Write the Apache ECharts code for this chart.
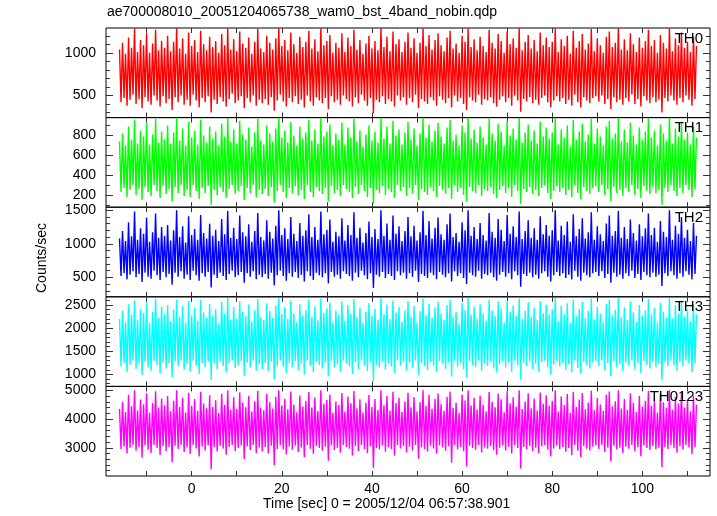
<!DOCTYPE html>
<html><head><meta charset="utf-8">
<script src="https://cdn.jsdelivr.net/npm/echarts@6/dist/echarts.min.js"></script>
<style>html,body{margin:0;padding:0;background:#fff}#c{width:717px;height:516px}</style>
</head><body><div id="c"></div>
<script>
const TITLE = "ae700008010_20051204065738_wam0_bst_4band_nobin.qdp";
const X_TITLE = "Time [sec] 0 = 2005/12/04 06:57:38.901";
const Y_TITLE = "Counts/sec";
const BANDS = ["TH0", "TH1", "TH2", "TH3", "TH0123"];
const COLORS = ["#ff0000", "#00ff00", "#0000ff", "#00ffff", "#ff00ff"];
const T_START = -16, T_STEP = 1 / 3;
const X_RANGE = [-19, 115];
const X_LABELS = [0, 20, 40, 60, 80, 100];
const X_TICKS = [-10, 0, 10, 20, 30, 40, 50, 60, 70, 80, 90, 100, 110];
const Y_RANGES = [[240, 1292], [76, 981], [210, 1545], [741, 2679], [2017, 5139]];
const Y_LABELS = [[500, 1000], [200, 400, 600, 800], [500, 1000, 1500], [1000, 1500, 2000, 2500], [3000, 4000, 5000]];
const Y_MINOR_STEP = [100, 100, 100, 100, 200];

const th0 = [1040,420,1120,470,990,380,1180,450,1060,510,1290,400,1010,460,1150,350,
1090,480,1230,430,1000,390,1110,500,1270,440,1030,370,1140,490,1060,410,
1200,460,1020,330,1130,480,1290,420,1050,500,1170,390,990,450,1240,380,
1080,510,1150,440,1010,360,1260,470,1100,420,1030,490,1190,300,1070,450,
1140,400,1000,480,1220,430,1090,370,1290,460,1040,520,1160,410,1020,440,
1250,490,1110,350,1060,470,1180,420,990,500,1130,380,1280,450,1050,410,
1010,460,1200,390,1120,480,1040,320,1170,440,1290,510,1080,430,1150,370,
1030,470,1240,420,1100,490,1000,400,1190,450,1070,360,1130,500,1260,430,
1050,380,1160,480,1020,440,1290,410,1090,470,1140,340,1210,490,1000,420,
1120,450,1060,390,1230,500,1010,460,1180,430,1080,370,1270,480,1040,410,
1150,510,990,440,1110,380,1200,470,1050,290,1140,450,1030,420,1290,490,
1070,400,1190,460,1020,430,1250,370,1100,500,1160,440,1010,480,1130,390,
1240,470,1060,420,1170,510,1000,350,1120,460,1290,430,1080,400,1210,480,
1040,440,1150,380,1230,490,1090,450,1020,410,1180,470,1260,360,1050,500,
1110,430,1000,470,1200,400,1130,330,1290,480,1070,440,1160,420,1030,510,
1190,390,1080,460,1010,440,1270,480,1120,410,1050,370,1220,450,1140,490,
1000,420,1250,470,1100,380,1170,500,1060,440,1290,310,1030,460,1130,430,
1210,480,1050,410,1150,450,1020,390,1240,470,1090,500,1180,420,1070,360,
1130,440,1290,490,1010,430,1160,470,1080,400,1200,450,990,380,1260,510,
1060,420,1140,360,1220,480,1040,440,1110,410,1280,470,1020,490,1170,430,
1090,500,1000,400,1190,460,1250,340,1070,480,1120,420,1290,450,1040,390,
1160,470,1030,430,1230,510,1100,400,1010,460,1180,370,1060,490,1140,440,
1270,410,1080,480,1150,420,1000,450,1210,300,1120,470,1050,430,1290,500,
1020,440,1170,390,1090,470,1240,420,1060,500,1130,450,1010,380,1190,460,
1080];
const th1 = [740,230,820,270,700,180,890,250,760,300,960,200,720,260,850,150,
790,280,930,230,710,190,810,300,970,240,730,170,840,290,760,210,
900,260,720,130,830,280,980,220,750,300,870,190,700,250,940,180,
780,300,850,240,710,160,960,270,800,220,730,290,890,100,770,250,
840,200,700,280,920,230,790,170,980,260,740,300,860,210,720,240,
950,290,810,150,760,270,880,220,690,300,830,180,970,250,750,210,
710,260,900,190,820,280,740,120,870,240,980,300,780,230,850,170,
730,270,940,220,800,290,700,200,890,250,770,160,830,300,960,230,
750,180,860,280,720,240,980,210,790,270,840,140,910,290,700,220,
820,250,760,190,930,300,710,260,880,230,780,170,970,280,740,210,
850,300,690,240,810,180,900,270,750,110,840,250,730,220,980,290,
770,200,890,260,720,230,950,170,800,300,860,240,710,280,830,190,
940,270,760,220,870,300,700,150,820,260,980,230,780,200,910,280,
740,240,850,180,930,290,790,250,720,210,880,270,960,160,750,300,
810,230,700,270,900,200,830,130,980,280,770,240,860,220,730,300,
890,190,780,260,710,240,970,280,820,210,750,170,920,250,840,290,
700,220,950,270,800,180,870,300,760,240,980,110,730,260,830,230,
910,280,750,210,850,250,720,190,940,270,790,300,880,220,770,160,
830,240,980,290,710,230,860,270,780,200,900,250,690,180,960,300,
760,220,840,160,920,280,740,240,810,210,970,270,720,290,870,230,
790,300,700,200,890,260,950,140,770,280,820,220,980,250,740,190,
860,270,730,230,930,300,800,200,710,260,880,170,760,290,840,240,
970,210,780,280,850,220,700,250,910,100,820,270,750,230,980,300,
720,240,870,190,790,270,940,220,760,300,830,250,710,180,890,260,
780];
const th2 = [1080,520,1190,560,1040,470,1320,540,1110,590,1480,500,1060,550,1230,430,
1150,570,1390,510,1030,480,1170,600,1450,530,1090,460,1250,580,1120,500,
1280,550,1050,390,1200,570,1500,510,1100,590,1260,480,1020,540,1410,460,
1130,600,1220,530,1060,450,1430,560,1160,510,1080,580,1300,350,1120,540,
1210,490,1040,570,1370,520,1140,460,1490,550,1090,600,1240,500,1070,530,
1420,580,1170,420,1110,560,1290,510,1030,590,1190,470,1460,540,1100,500,
1050,550,1350,480,1180,570,1080,380,1270,530,1500,600,1130,520,1230,450,
1070,560,1400,510,1150,580,1040,490,1310,540,1120,440,1200,590,1440,520,
1100,460,1250,570,1060,530,1480,500,1140,560,1210,410,1360,580,1030,510,
1180,540,1110,480,1380,590,1050,550,1280,520,1130,450,1470,570,1090,500,
1240,600,1020,530,1160,470,1330,560,1100,340,1220,540,1070,510,1500,580,
1120,490,1300,550,1060,520,1420,460,1150,590,1260,530,1040,570,1190,480,
1400,560,1110,510,1270,600,1050,430,1170,550,1490,520,1130,490,1340,570,
1080,530,1240,470,1390,580,1140,540,1060,500,1290,560,1450,440,1100,590,
1160,520,1030,560,1320,490,1200,400,1500,570,1120,530,1250,510,1070,600,
1310,480,1130,550,1050,530,1460,570,1180,500,1090,450,1370,540,1210,580,
1040,510,1430,560,1150,470,1260,590,1100,530,1480,360,1070,550,1190,520,
1350,570,1090,500,1230,540,1060,480,1410,560,1140,590,1280,510,1120,440,
1200,530,1500,580,1050,520,1270,560,1130,490,1330,540,1030,470,1440,600,
1110,510,1220,450,1380,570,1080,530,1170,500,1470,560,1060,580,1260,520,
1140,590,1040,490,1300,550,1420,420,1120,570,1190,510,1490,540,1090,480,
1250,560,1070,520,1360,600,1160,490,1050,550,1290,460,1110,580,1230,530,
1450,500,1130,570,1240,510,1030,540,1340,370,1180,560,1100,520,1500,590,
1060,530,1270,480,1150,560,1400,510,1090,590,1210,540,1040,470,1310,550,
1120];
const th3 = [2200,1180,2380,1250,2130,1050,2520,1210,2290,1300,2600,1120,2170,1230,2420,990,
2330,1270,2560,1150,2110,1080,2350,1290,2640,1200,2220,1020,2470,1260,2300,1130,
2500,1240,2150,940,2400,1280,2620,1170,2250,1300,2480,1100,2120,1220,2590,1060,
2280,1300,2440,1190,2160,1010,2610,1250,2340,1160,2230,1270,2530,880,2270,1230,
2410,1110,2100,1280,2570,1180,2310,1040,2650,1240,2190,1300,2460,1140,2210,1200,
2580,1290,2360,970,2260,1260,2510,1150,2140,1300,2390,1080,2630,1220,2240,1120,
2180,1250,2540,1070,2370,1280,2230,900,2490,1190,2650,1300,2300,1170,2450,1030,
2200,1260,2600,1160,2320,1290,2130,1090,2520,1230,2280,1000,2400,1300,2620,1180,
2250,1050,2470,1270,2170,1200,2640,1130,2330,1250,2430,960,2550,1290,2120,1150,
2380,1220,2290,1060,2580,1300,2150,1240,2500,1180,2310,1010,2630,1270,2240,1110,
2440,1300,2110,1190,2350,1070,2540,1260,2270,860,2420,1210,2190,1150,2650,1280,
2300,1100,2510,1240,2200,1170,2600,1030,2340,1300,2460,1200,2140,1270,2390,1080,
2590,1260,2260,1140,2480,1300,2130,980,2370,1240,2640,1180,2280,1090,2530,1270,
2230,1190,2450,1060,2570,1290,2320,1230,2180,1120,2500,1260,2610,950,2250,1300,
2360,1170,2100,1250,2550,1110,2400,930,2650,1280,2290,1200,2470,1160,2210,1300,
2520,1080,2310,1240,2160,1190,2620,1270,2390,1130,2260,1040,2580,1220,2430,1290,
2120,1150,2600,1260,2350,1060,2490,1300,2270,1200,2640,890,2200,1250,2380,1180,
2560,1280,2240,1120,2440,1230,2170,1070,2590,1270,2330,1300,2510,1160,2290,1000,
2410,1210,2650,1290,2150,1170,2480,1250,2300,1100,2540,1220,2110,1040,2620,1300,
2260,1140,2420,1010,2570,1270,2220,1200,2370,1130,2640,1260,2190,1290,2460,1180,
2310,1300,2130,1090,2530,1240,2610,960,2280,1280,2400,1150,2650,1220,2240,1070,
2450,1260,2180,1190,2580,1300,2340,1110,2140,1250,2500,1030,2270,1290,2390,1210,
2630,1130,2290,1270,2430,1160,2120,1230,2550,870,2360,1260,2230,1180,2650,1300,
2210,1200,2490,1080,2320,1270,2600,1170,2260,1300,2410,1240,2150,1050,2520,1250,
2300];
const th0123 = [4350,2950,4600,3050,4250,2800,4850,3000,4450,3100,5000,2900,4300,3020,4680,2650,
4520,3080,4900,2930,4220,2820,4560,3100,4970,2990,4400,2750,4720,3060,4480,2880,
4800,3030,4280,2500,4640,3070,5000,2960,4420,3100,4740,2850,4230,3010,4920,2780,
4460,3100,4700,2980,4290,2700,4950,3040,4540,2910,4380,3080,4830,2250,4430,3020,
4660,2870,4210,3060,4880,2970,4500,2760,5000,3030,4330,3100,4760,2890,4360,2990,
4930,3080,4580,2600,4410,3050,4810,2920,4260,3100,4620,2820,4990,3010,4390,2870,
4310,3030,4870,2800,4590,3070,4370,2400,4780,2960,5000,3100,4470,2940,4710,2770,
4340,3050,4960,2930,4510,3080,4240,2850,4820,3010,4440,2680,4630,3100,4940,2970,
4400,2790,4750,3060,4280,2990,5000,2900,4530,3040,4670,2550,4860,3080,4220,2920,
4610,3000,4490,2830,4910,3100,4260,3030,4790,2970,4550,2730,4980,3060,4380,2880,
4690,3100,4230,2960,4570,2810,4840,3050,4420,2300,4700,2990,4320,2940,5000,3080,
4480,2860,4800,3020,4300,2950,4950,2720,4560,3100,4730,2980,4250,3060,4620,2840,
4920,3040,4410,2910,4770,3100,4270,2620,4590,3020,5000,2960,4460,2870,4850,3070,
4360,2980,4710,2790,4890,3080,4520,3010,4290,2900,4780,3050,4960,2480,4390,3100,
4570,2940,4210,3030,4860,2880,4650,2350,5000,3070,4470,2990,4740,2930,4330,3100,
4820,2840,4500,3010,4270,2970,4940,3060,4600,2920,4410,2760,4880,3000,4690,3080,
4240,2910,4970,3040,4550,2800,4760,3100,4430,2990,5000,2280,4350,3030,4610,2950,
4900,3060,4380,2890,4720,3000,4300,2820,4930,3050,4530,3100,4830,2930,4460,2700,
4640,2980,5000,3080,4260,2950,4790,3030,4490,2860,4870,2990,4220,2740,4950,3100,
4420,2900,4680,2670,4910,3060,4340,2970,4580,2910,4990,3040,4310,3080,4730,2960,
4510,3100,4280,2850,4850,3010,4960,2520,4450,3070,4620,2940,5000,3000,4370,2810,
4700,3040,4320,2970,4900,3100,4570,2880,4250,3020,4810,2710,4440,3080,4640,2990,
4980,2920,4470,3060,4680,2950,4230,3000,4870,2320,4590,3030,4390,2960,5000,3100,
4330,2990,4770,2830,4540,3050,4940,2940,4400,3100,4660,3010,4270,2780,4820,3020,
4500];
const SERIES = [th0, th1, th2, th3, th0123];

const FONT = "Liberation Sans, Arial, sans-serif";
const LEFT = 106, RIGHT = 7, TOP = 28, PANEL_H = 89.6;
const grids = [], xAxes = [], yAxes = [], series = [], graphics = [];
const tickStyle = {color: "#333", width: 1};
const plain = v => String(v);

BANDS.forEach((name, i) => {
  grids.push({left: LEFT, right: RIGHT, top: TOP + i * PANEL_H, height: PANEL_H,
    show: true, borderColor: "#000", borderWidth: 1, backgroundColor: "transparent"});
  const last = i === BANDS.length - 1;
  ["bottom", "top"].forEach(pos => {
    xAxes.push({type: "value", gridIndex: i, position: pos, min: X_RANGE[0], max: X_RANGE[1],
      axisLine: {show: false, onZero: false}, splitLine: {show: false},
      axisTick: {show: true, inside: true, length: 5, lineStyle: tickStyle, customValues: X_TICKS},
      axisLabel: {show: last && pos === "bottom", customValues: X_LABELS, margin: 6, formatter: plain,
        color: "#000", fontFamily: FONT, fontSize: 14}});
  });
  const [lo, hi] = Y_RANGES[i];
  const minor = [];
  for (let v = Math.ceil(lo / Y_MINOR_STEP[i]) * Y_MINOR_STEP[i]; v <= hi; v += Y_MINOR_STEP[i]) minor.push(v);
  const mainY = yAxes.length;
  ["left", "right"].forEach(pos => {
    const base = {type: "value", gridIndex: i, min: lo, max: hi, position: pos,
      axisLine: {show: false, onZero: false}, splitLine: {show: false}};
    yAxes.push(Object.assign({}, base, {
      axisTick: {show: true, inside: true, length: 7, lineStyle: tickStyle, customValues: Y_LABELS[i]},
      axisLabel: {show: pos === "left", customValues: Y_LABELS[i], margin: 10, formatter: plain,
        color: "#000", fontFamily: FONT, fontSize: 14}}));
    yAxes.push(Object.assign({}, base, {
      axisTick: {show: true, inside: true, length: 4, lineStyle: tickStyle, customValues: minor},
      axisLabel: {show: false}}));
  });
  series.push({type: "line", xAxisIndex: i * 2, yAxisIndex: mainY, showSymbol: false,
    sampling: null, clip: true, animation: false,
    lineStyle: {color: COLORS[i], width: 1.4}, itemStyle: {color: COLORS[i]},
    data: SERIES[i].map((v, k) => [T_START + k * T_STEP, v])});
  graphics.push({type: "text", right: 14, top: TOP + i * PANEL_H + 3,
    style: {text: name, fill: "#000", font: "15px " + FONT}, z: 100});
});

graphics.push({type: "text", left: 107, top: 5, style: {text: TITLE, fill: "#000", font: "14px " + FONT}});
graphics.push({type: "text", left: 263, top: 497, style: {text: X_TITLE, fill: "#000", font: "14px " + FONT}});
graphics.push({type: "text", x: 42, y: 258, rotation: Math.PI / 2,
  style: {text: Y_TITLE, fill: "#000", font: "14px " + FONT, align: "center", verticalAlign: "middle"}});

const chart = echarts.init(document.getElementById("c"), null, {renderer: "canvas"});
chart.setOption({animation: false, backgroundColor: "#fff", grid: grids, xAxis: xAxes, yAxis: yAxes,
  series: series, graphic: graphics});
</script></body></html>
